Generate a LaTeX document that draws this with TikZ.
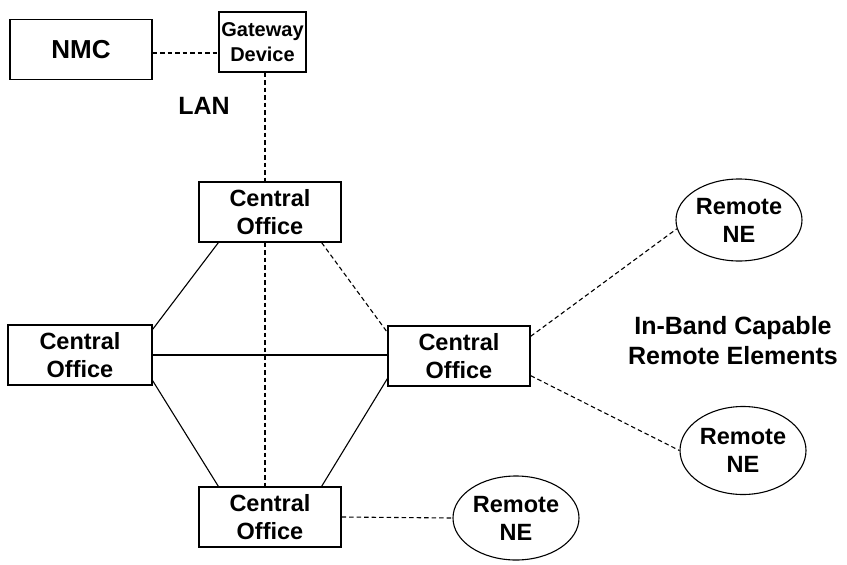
\documentclass[tikz,border=0pt]{standalone}
\usepackage{fontspec}
\setmainfont{Liberation Sans}
\usetikzlibrary{shapes.geometric}
\begin{document}
\begin{tikzpicture}[x=1pt,y=-1pt,
  box/.style={draw,line width=1.3pt,rectangle,inner sep=0pt,align=center,font=\fontsize{23.5}{28}\selectfont\bfseries},
  rne/.style={draw,line width=1.1pt,ellipse,inner sep=0pt,align=center,font=\fontsize{23.5}{28}\selectfont\bfseries},
  lbl/.style={align=center,inner sep=0pt},
  solidln/.style={line width=1.1pt},
  dashln/.style={line width=1.1pt,dash pattern=on 4.5pt off 3pt}]
\useasboundingbox (0,0) rectangle (847,565);
\node[box,minimum width=142pt,minimum height=60pt,font=\fontsize{26}{30}\selectfont\bfseries] (nmc) at (81,49.5) {NMC};
\node[box,minimum width=87pt,minimum height=60pt,font=\fontsize{20}{25}\selectfont\bfseries] (gw) at (262.5,42) {Gateway\\Device};
\node[lbl,font=\fontsize{25}{30}\selectfont\bfseries] (lan) at (204,106) {LAN};
\node[box,minimum width=142pt,minimum height=60pt] (cot) at (270,212) {Central\\Office};
\node[box,minimum width=144pt,minimum height=60pt] (col) at (80,355) {Central\\Office};
\node[box,minimum width=142pt,minimum height=60pt] (cor) at (459,356) {Central\\Office};
\node[box,minimum width=142pt,minimum height=60pt] (cob) at (270,517) {Central\\Office};
\node[rne,minimum width=126pt,minimum height=82pt] (rt) at (739,220) {Remote\\NE};
\node[rne,minimum width=126pt,minimum height=88pt] (rm) at (743,450.5) {Remote\\NE};
\node[rne,minimum width=126pt,minimum height=84pt] (rb) at (516,518) {Remote\\NE};
\node[lbl,font=\fontsize{25}{30}\selectfont\bfseries] (inb) at (733,341) {In-Band Capable\\Remote Elements};
% connectors
\draw[dashln] ([yshift=-3.5pt]nmc.east) -- ([yshift=-3.5pt]nmc.east -| gw.west);
\draw[dashln] ([xshift=2.5pt]gw.south) -- ([xshift=-5pt]cot.north);
\draw[dashln] ([xshift=-5pt]cot.south) -- ([xshift=-5pt]cob.north);
\draw[solidln] ([xshift=20pt]cot.south west) -- ([yshift=-5pt]col.north east);
\draw[dashln] ([xshift=-20pt]cot.south east) -- ([yshift=-7pt]cor.north west);
\draw[solidln] (col.east) -- (col.east -| cor.west);
\draw[solidln] ([yshift=5pt]col.south east) -- ([xshift=20pt]cob.north west);
\draw[solidln] ([yshift=8pt]cor.south west) -- ([xshift=-20pt]cob.north east);
\draw[dashln] ([yshift=-11pt]cor.north east) -- (rt.188);
\draw[dashln] ([yshift=11pt]cor.south east) -- (rm.west);
\draw[dashln] (cob.east) -- (rb.west);
\end{tikzpicture}
\end{document}
